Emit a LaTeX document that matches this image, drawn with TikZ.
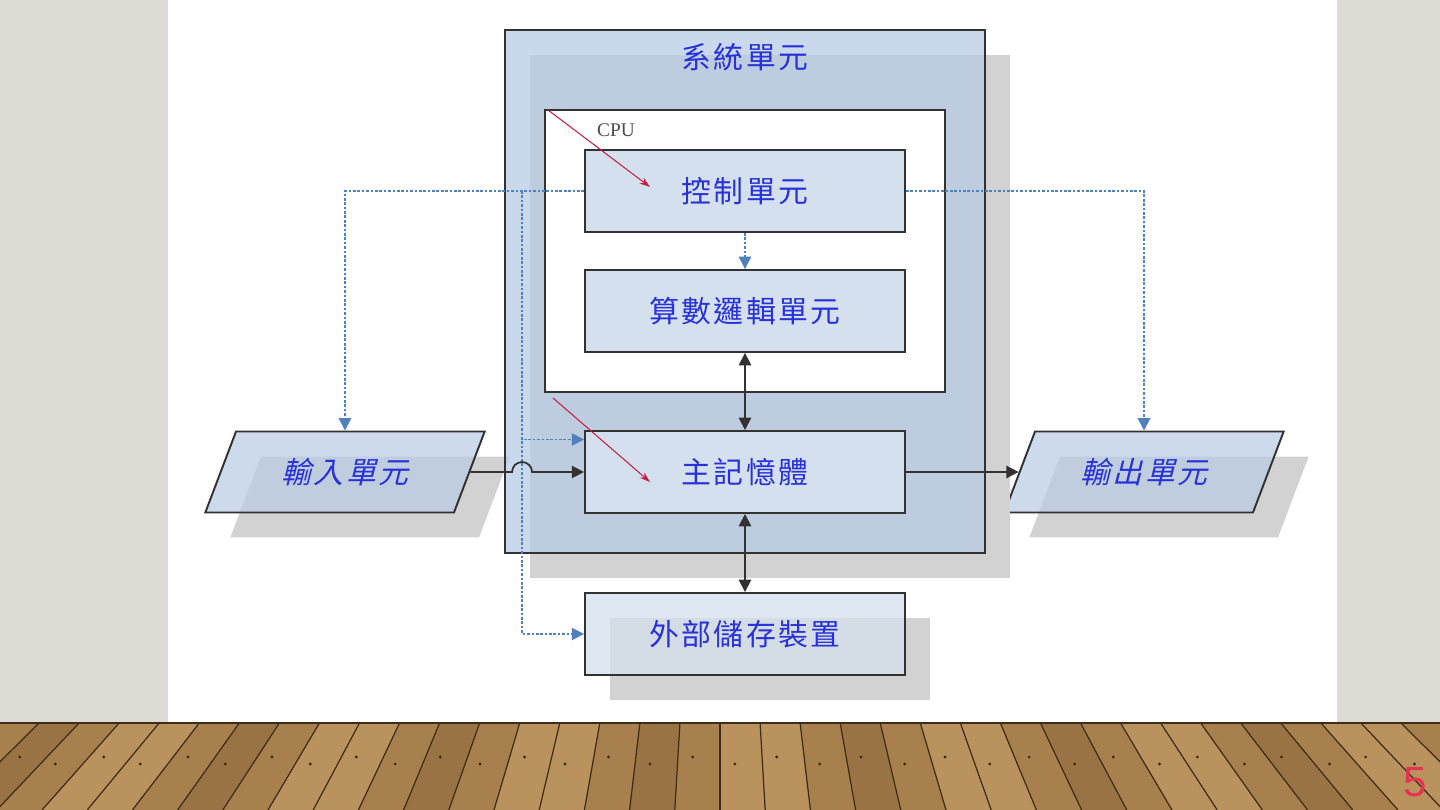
\documentclass[tikz,border=0pt]{standalone}
\usepackage{fontspec}
\usepackage{xcolor}
\usepackage{tikz}
\usetikzlibrary{shapes.geometric,arrows.meta,positioning,calc,shadows}

\setmainfont{Liberation Serif}
\newfontfamily\cjk[LetterSpace=8]{Noto Sans CJK TC}
\newfontfamily\cjkslant[FakeSlant=0.25,LetterSpace=8]{Noto Sans CJK TC}
\newfontfamily\pagefont{Liberation Sans}

\definecolor{slidebg}{RGB}{222,219,213}
\definecolor{boxblue}{RGB}{184,203,228}
\definecolor{unitblue}{RGB}{213,224,238}
\definecolor{textblue}{RGB}{40,50,215}
\definecolor{linkblue}{RGB}{79,129,189}
\definecolor{shade}{RGB}{210,210,210}
\definecolor{edge}{RGB}{50,50,50}
\definecolor{markred}{RGB}{200,30,70}
\definecolor{woodA}{RGB}{168,128,78}
\definecolor{woodB}{RGB}{186,146,94}
\definecolor{woodC}{RGB}{154,115,68}
\definecolor{plankline}{RGB}{62,44,26}
\definecolor{pagered}{RGB}{230,50,80}

\begin{document}
\begin{tikzpicture}[x=0.02cm,y=-0.02cm,
  unit/.style={draw=edge, line width=1.1pt, fill=unitblue, minimum width=6.4cm, minimum height=1.64cm, inner sep=0pt},
  io/.style={trapezium, trapezium left angle=63.7, trapezium right angle=116.3, trapezium stretches=true,
    draw=edge, line width=1.1pt, fill=boxblue, fill opacity=0.7, text opacity=1,
    minimum width=5.6cm, minimum height=1.62cm,
    drop shadow={shadow xshift=0.5cm, shadow yshift=-0.5cm, fill=shade, opacity=1}},
  unittext/.style={text=textblue, font=\cjk\fontsize{17}{20}\selectfont},
  ctl/.style={linkblue, line width=0.9pt, dash pattern=on 1.5pt off 1pt, -{Triangle[length=7pt,width=7pt]}},
  flow/.style={edge, line width=1pt, -{Triangle[length=7pt,width=7pt]}},
  redmark/.style={markred, line width=0.6pt, -{Stealth[length=6pt,width=4pt]}}
]
\useasboundingbox (0,0) rectangle (1440,810);

% Slide background
\fill[slidebg] (0,0) rectangle (1440,810);
\fill[white] (168,0) rectangle (1337,722);

% Wooden floor
\begin{scope}
\clip (0,722) rectangle (1440,810);
\foreach \i in {0,...,60} {
  \pgfmathsetmacro\xa{-600+40*\i}
  \pgfmathsetmacro\xb{\xa+40}
  \pgfmathsetmacro\xc{720+(\xa-720)*1.13}
  \pgfmathsetmacro\xd{720+(\xb-720)*1.13}
  \pgfmathtruncatemacro\k{mod(\i*2,5)}
  \ifcase\k \def\wc{woodA}\or \def\wc{woodB}\or \def\wc{woodC}\or \def\wc{woodB}\or \def\wc{woodA}\fi
  \fill[\wc] (\xa,722) -- (\xb,722) -- (\xd,810) -- (\xc,810) -- cycle;
  \draw[plankline, line width=0.7pt] (\xa,722) -- (\xc,810);
  \pgfmathsetmacro\dy{mod(\i,2)==0 ? 757 : 764}
  \fill[plankline] ({720+(\xa+14-720)*(1+(\dy-722)/680)},\dy) circle[radius=1.6];
}
\fill[plankline] (0,720) rectangle (1440,724);
\end{scope}
\node[text=pagered, font=\pagefont\fontsize{24}{24}\selectfont] (pagenum) at (1415,782) {5};

% Input / output units
\node[io, unittext] (in) at (345,472) {\cjkslant 輸入單元};
\node[io, unittext] (out) at (1144,472) {\cjkslant 輸出單元};

% System unit
\node[draw=edge, line width=1.1pt, fill=boxblue, fill opacity=0.75, minimum width=9.6cm, minimum height=10.46cm,
  drop shadow={shadow xshift=0.5cm, shadow yshift=-0.5cm, fill=shade, opacity=1}] (sys) at (745,291.5) {};
\node[unittext] (systitle) at (745,57) {系統單元};

% CPU
\node[draw=edge, line width=1.1pt, fill=white, minimum width=8cm, minimum height=5.64cm] (cpu) at (745,251) {};
\node[anchor=west, text=black!70, font=\fontsize{11}{13}\selectfont] (cpulabel) at (591,130) {CPU};

\node[unit, unittext] (ctrl) at (745,191) {控制單元};
\node[unit, unittext] (alu) at (745,311) {算數邏輯單元};
\node[unit, unittext] (mem) at (745,472) {主記憶體};
\node[unit, unittext, fill opacity=0.75, text opacity=1,
  drop shadow={shadow xshift=0.5cm, shadow yshift=-0.5cm, fill=shade, opacity=1}] (ext) at (745,634) {外部儲存裝置};

% Control signals
\draw[ctl] (ctrl.south) -- (alu.north);
\draw[ctl] (ctrl.west) -| (in.north);
\draw[ctl] (ctrl.east) -| (out.north);
\coordinate (bus) at ([xshift=0.36cm]ctrl.west -| sys.west);
\draw[ctl] (bus) |- ([yshift=0.65cm]mem.west);
\draw[ctl] (bus) |- (ext.west);

% Data flow
\draw[flow] (in.east) -- ([xshift=-0.2cm]in.east -| bus) arc[start angle=180, end angle=0, radius=0.2cm] -- (mem.west);
\draw[flow] (mem.east) -- (out.west);
\draw[flow, {Triangle[length=7pt,width=7pt]}-{Triangle[length=7pt,width=7pt]}] (alu.south) -- (mem.north);
\draw[flow, {Triangle[length=7pt,width=7pt]}-{Triangle[length=7pt,width=7pt]}] (mem.south) -- (ext.north);

% Red pointers
\coordinate (pa) at (548,110);
\coordinate (pb) at (650,187);
\coordinate (pc) at (553,398);
\coordinate (pd) at (650,482);
\draw[redmark] (pa) -- (pb);
\draw[redmark] (pc) -- (pd);
\end{tikzpicture}
\end{document}
